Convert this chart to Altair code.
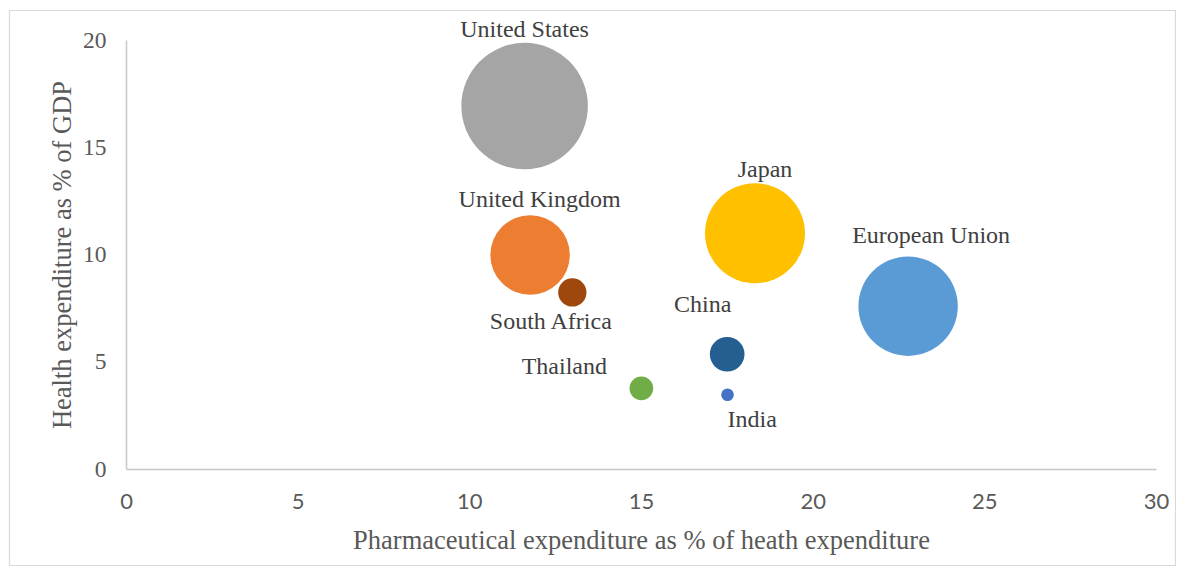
import altair as alt
import pandas as pd

# ---- data ----
countries = ["United States", "United Kingdom", "South Africa", "Japan",
             "European Union", "China", "Thailand", "India"]
pharma_share = [11.61, 11.77, 13.0, 18.32, 22.78, 17.51, 15.01, 17.52]
health_gdp = [16.92, 9.98, 8.23, 10.99, 7.59, 5.35, 3.76, 3.46]
bubble_size = [400, 158, 20, 250, 247, 30, 14, 4]

x_ticks = [0, 5, 10, 15, 20, 25, 30]
y_ticks = [0, 5, 10, 15, 20]

# ---- styles ----
colors = ["#A5A5A5", "#ED7D31", "#9E480E", "#FFC000",
          "#5B9BD5", "#255E91", "#70AD47", "#4472C4"]
label_offsets = {
    "United States": (0, -69.3),
    "United Kingdom": (9.5, -48.3),
    "South Africa": (-21.5, 36.8),
    "Japan": (10, -56.6),
    "European Union": (23, -63),
    "China": (-24.5, -41.9),
    "Thailand": (-77, -14.3),
    "India": (24.7, 32),
}

df = pd.DataFrame({
    "country": countries,
    "pharma": pharma_share,
    "health": health_gdp,
    "bsize": bubble_size,
})

W, H = 1030, 429
SERIF = "Liberation Serif"

x_enc = alt.X(
    "pharma:Q",
    scale=alt.Scale(domain=[0, 30], nice=False, zero=True),
    axis=alt.Axis(
        values=x_ticks, grid=False, ticks=False, tickSize=0,
        domainColor="#c8c8c8", domainWidth=1.5,
        labelFont="Lato", labelFontSize=22, labelColor="#595959",
        labelBaseline="alphabetic", labelPadding=39,
        labelFlush=False, labelOverlap=False,
        title="Pharmaceutical expenditure as % of heath expenditure",
        titleFont=SERIF, titleFontSize=26.5, titleFontWeight="normal",
        titleColor="#595959", titleBaseline="alphabetic",
        titleAlign="center", titleX=W / 2, titleY=79,
    ),
)
y_enc = alt.Y(
    "health:Q",
    scale=alt.Scale(domain=[0, 20], nice=False, zero=True),
    axis=alt.Axis(
        values=y_ticks, grid=False, ticks=False, tickSize=0,
        domainColor="#c8c8c8", domainWidth=1.5,
        labelFont=SERIF, labelFontSize=23.5, labelColor="#595959",
        labelPadding=20, labelBaseline="middle",
        labelFlush=False, labelOverlap=False,
        title="Health expenditure as % of GDP",
        titleFont=SERIF, titleFontSize=26.5, titleFontWeight="normal",
        titleColor="#595959", titleBaseline="alphabetic",
        titleAlign="center", titleAngle=-90, titleX=-56, titleY=H / 2,
    ),
)

base = alt.Chart(df)

bubbles = base.mark_circle(opacity=1).encode(
    x=x_enc,
    y=y_enc,
    size=alt.Size("bsize:Q",
                  scale=alt.Scale(domain=[0, 400], range=[0, 16000], zero=True),
                  legend=None),
    color=alt.Color("country:N",
                    scale=alt.Scale(domain=countries, range=colors),
                    legend=None),
    order=alt.Order("bsize:Q", sort="descending"),
)

labels = []
for c in countries:
    dx, dy = label_offsets[c]
    labels.append(
        base.transform_filter(alt.datum.country == c).mark_text(
            dx=dx, dy=dy, align="center", baseline="alphabetic",
            font=SERIF, fontSize=24, color="#404040",
        ).encode(x=x_enc, y=y_enc, text="country:N")
    )

border = alt.Chart(pd.DataFrame({"a": [0]})).mark_rect(
    fillOpacity=0, stroke="#d9d9d9", strokeWidth=1.2
).encode(
    x=alt.value(-116.5), x2=alt.value(1049.5),
    y=alt.value(-29.5), y2=alt.value(525.5),
)

chart = alt.layer(border, bubbles, *labels).properties(
    width=W, height=H,
    autosize=alt.AutoSizeParams(type="none"),
    padding={"left": 118, "top": 32, "right": 20, "bottom": 97},
    background="white",
).configure_view(strokeWidth=0)

chart.save("out.html", embed_options={"renderer": "svg", "actions": False})
